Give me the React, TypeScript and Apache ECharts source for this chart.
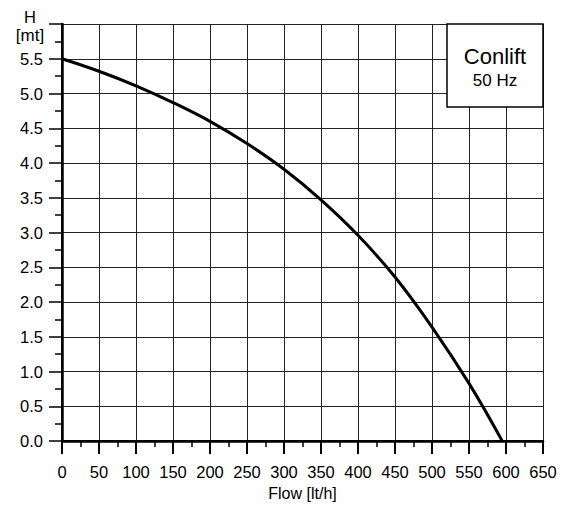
import React, { useEffect, useRef } from "react";
import * as echarts from "echarts";

const flow = [0, 50, 100, 150, 200, 250, 300, 350, 400, 450, 500, 550, 595];
const head = [5.5, 5.32, 5.11, 4.87, 4.6, 4.28, 3.91, 3.47, 2.96, 2.36, 1.64, 0.83, 0];
const xTicks = { min: 0, max: 650, interval: 50 };
const yTicks = { min: 0, max: 6, interval: 0.5 };
const title = "Conlift";
const subtitle = "50 Hz";
const xName = "Flow [lt/h]";
const yName = ["H", "[mt]"];

const FONT = "'Liberation Sans', Arial, sans-serif";

export default function App() {
  const ref = useRef<HTMLDivElement>(null);
  useEffect(() => {
    document.body.style.margin = "0";
    const chart = echarts.init(ref.current!, null, { renderer: "svg" });
    const data = flow.map((f, i) => [f, head[i]]);
    const txt = (text: string, x: number, y: number, size: number, z = 21) => ({
      type: "text",
      x,
      y,
      z,
      style: {
        text,
        fill: "#000",
        fontSize: size,
        fontFamily: FONT,
        align: "center",
        verticalAlign: "middle",
      },
    });
    chart.setOption({
      animation: false,
      backgroundColor: "#fff",
      grid: { left: 62, right: 25, top: 24, bottom: 64 },
      xAxis: [
        {
          type: "value",
          min: xTicks.min,
          max: xTicks.max,
          interval: xTicks.interval,
          name: xName,
          nameLocation: "middle",
          nameGap: 37,
          nameTextStyle: { color: "#000", fontSize: 16, fontFamily: FONT },
          axisLine: { show: true, lineStyle: { color: "#000", width: 2.5 } },
          axisTick: { show: true, inside: false, length: 13, lineStyle: { color: "#000", width: 2 } },
          minorTick: { show: true, splitNumber: 2, length: 6, lineStyle: { color: "#000", width: 1.5 } },
          axisLabel: { color: "#000", fontSize: 16.5, fontFamily: FONT, margin: 22 },
          splitLine: { show: true, lineStyle: { color: "#222", width: 1 } },
        },
        {
          type: "value",
          position: "top",
          min: xTicks.min,
          max: xTicks.max,
          axisLine: { show: true, lineStyle: { color: "#000", width: 2 } },
          axisTick: { show: false },
          axisLabel: { show: false },
          splitLine: { show: false },
        },
      ],
      yAxis: [
        {
          type: "value",
          min: yTicks.min,
          max: yTicks.max,
          interval: yTicks.interval,
          axisLine: { show: true, lineStyle: { color: "#000", width: 2.5 } },
          axisTick: { show: true, inside: false, length: 13, lineStyle: { color: "#000", width: 1.5 } },
          minorTick: { show: true, splitNumber: 2, length: 7, lineStyle: { color: "#000", width: 1.5 } },
          axisLabel: {
            color: "#000",
            fontSize: 16.5,
            fontFamily: FONT,
            margin: 19,
            formatter: (v: number) => (v >= yTicks.max ? "" : v.toFixed(1)),
          },
          splitLine: { show: true, lineStyle: { color: "#222", width: 1 } },
        },
        {
          type: "value",
          position: "right",
          min: yTicks.min,
          max: yTicks.max,
          axisLine: { show: true, lineStyle: { color: "#000", width: 2 } },
          axisTick: { show: false },
          axisLabel: { show: false },
          splitLine: { show: false },
        },
      ],
      series: [
        {
          type: "line",
          data,
          smooth: 0.4,
          showSymbol: false,
          lineStyle: { color: "#000", width: 3 },
          z: 5,
        },
      ],
      graphic: [
        txt(yName[0], 30, 17, 16.5),
        txt(yName[1], 30, 35, 17),
        {
          type: "rect",
          shape: { x: 447, y: 24, width: 96, height: 83 },
          style: { fill: "#fff", stroke: "#000", lineWidth: 1.5 },
          z: 20,
        },
        txt(title, 495, 56, 22),
        txt(subtitle, 495, 80, 17),
      ],
    });
    return () => chart.dispose();
  }, []);
  return <div ref={ref} style={{ width: 568, height: 506 }} />;
}
